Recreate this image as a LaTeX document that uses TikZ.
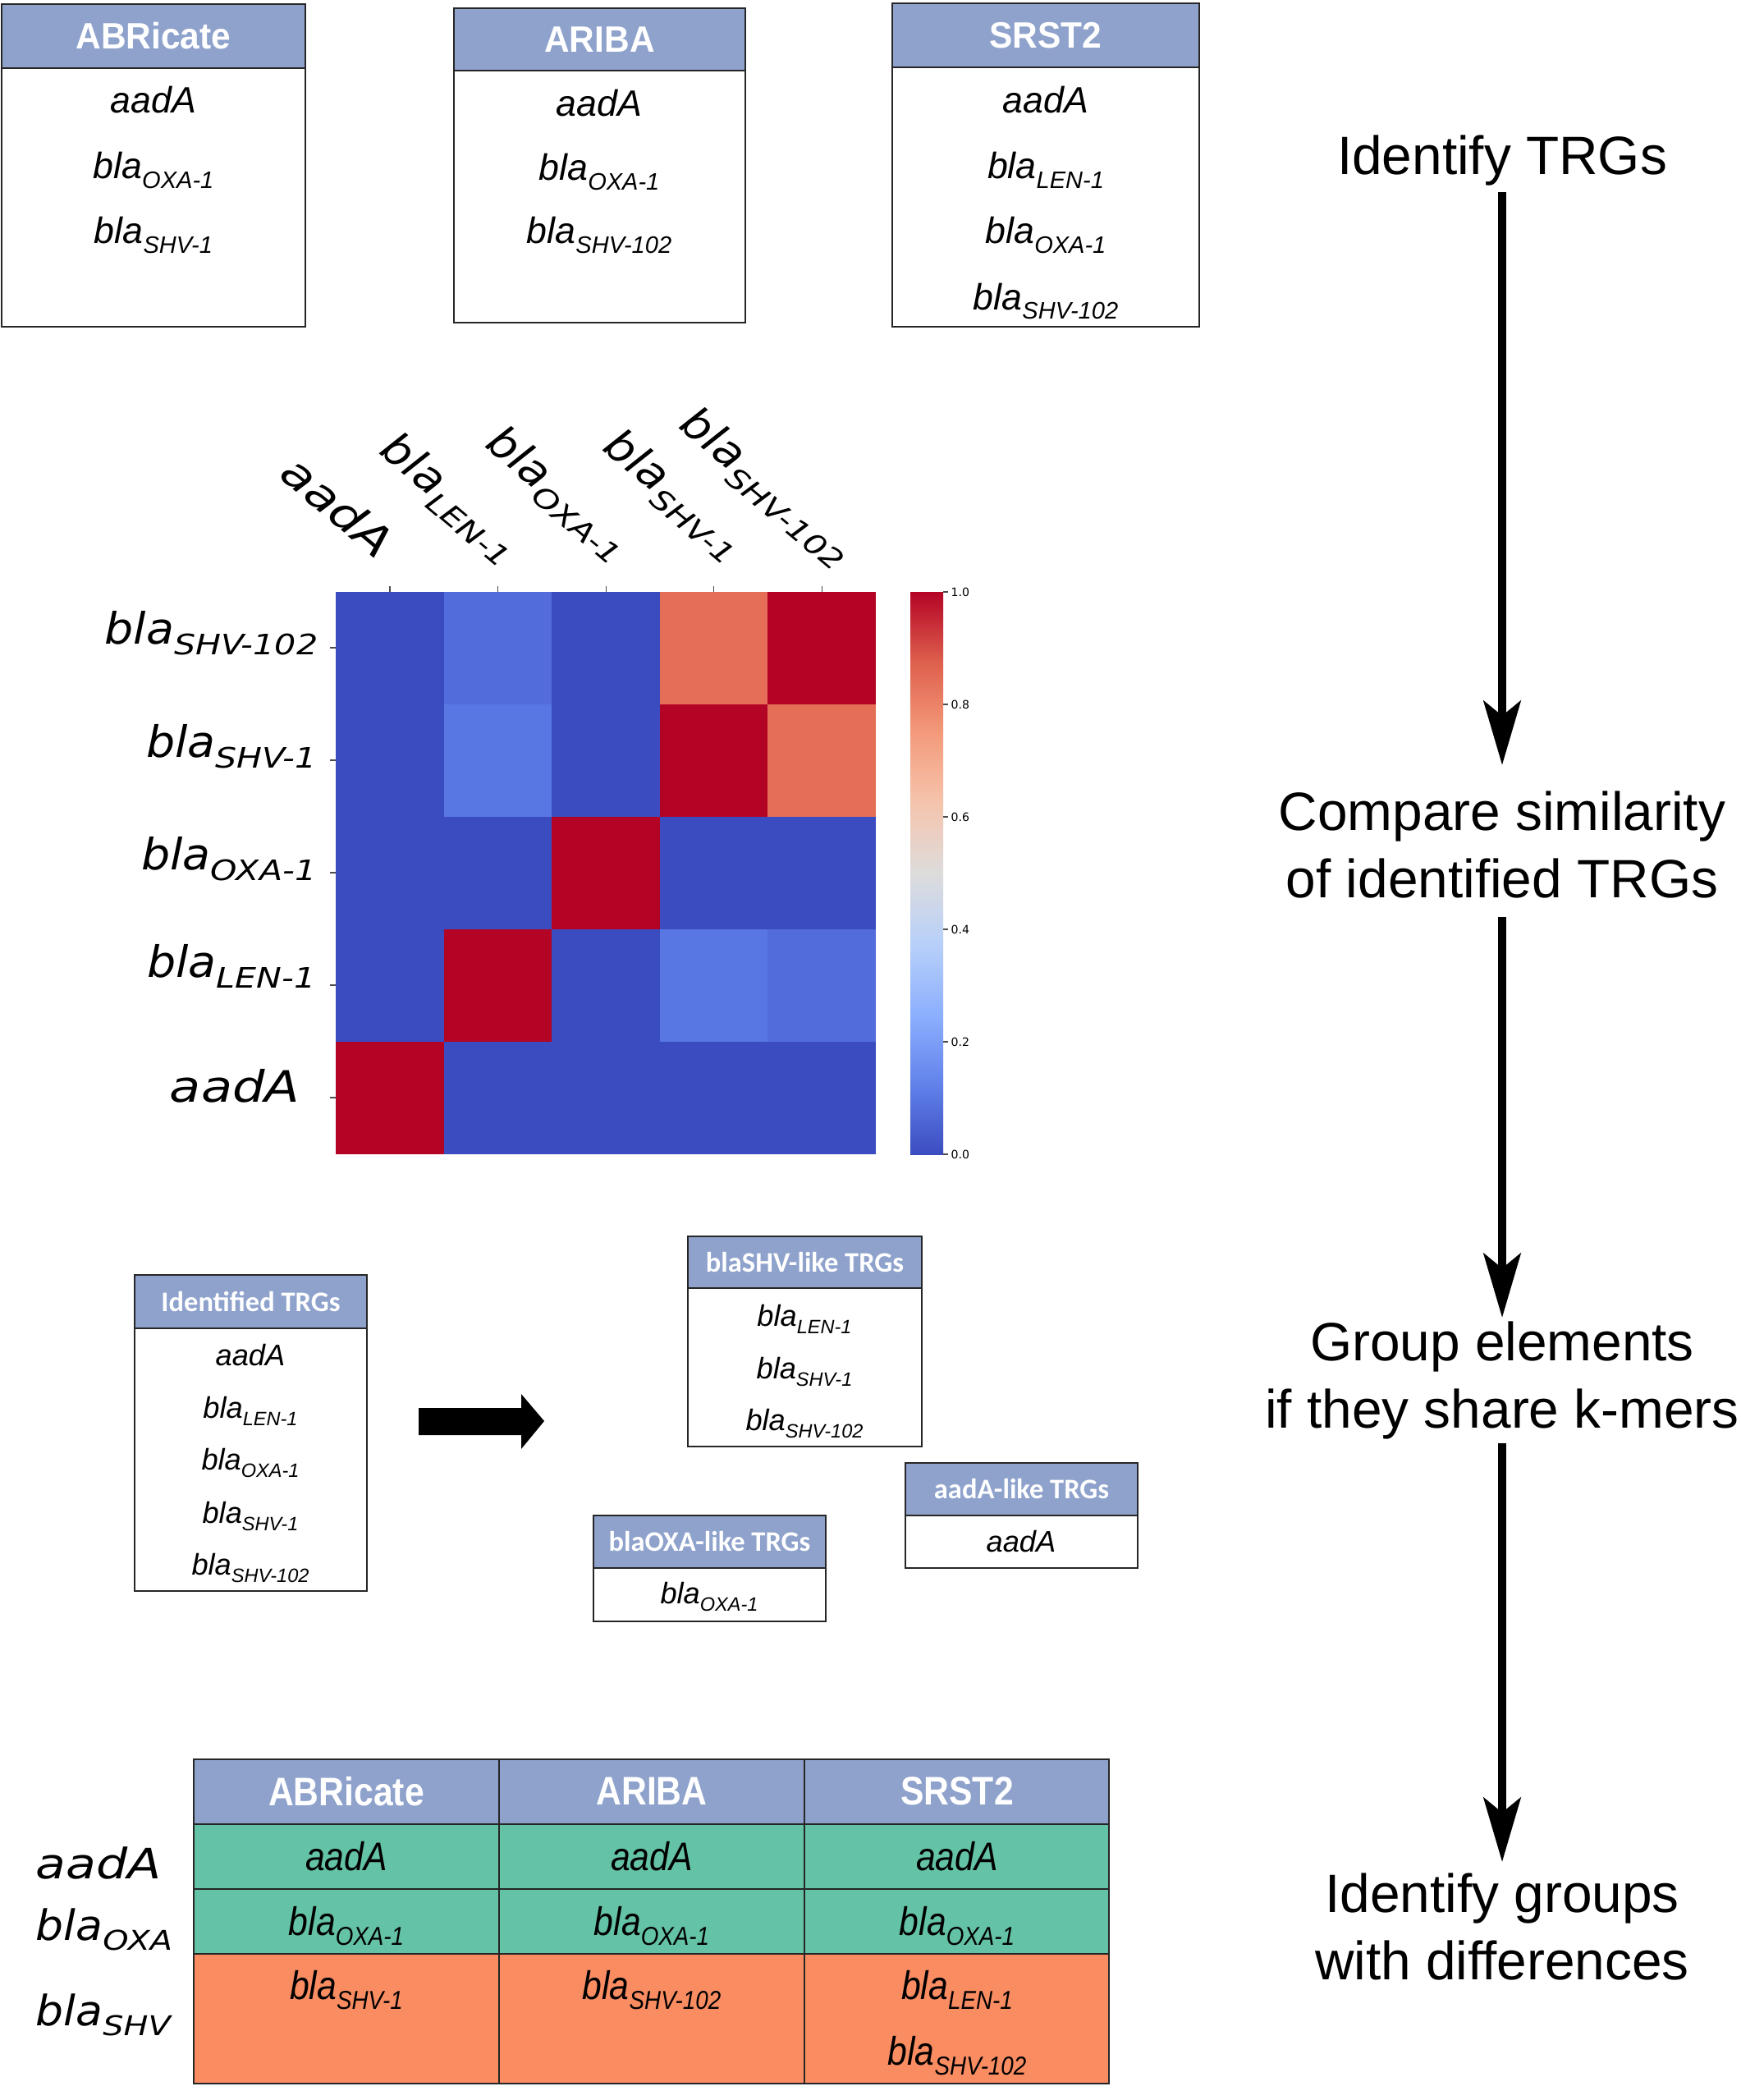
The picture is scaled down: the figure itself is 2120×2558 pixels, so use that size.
\documentclass[tikz,border=0pt]{standalone}
\usepackage{fontspec}
\usepackage{graphicx}
\setmainfont{Liberation Sans}
\newfontfamily\mplfont{DejaVu Sans}
\newfontfamily\calfont{Carlito}
\usetikzlibrary{arrows.meta}
\definecolor{hdr}{RGB}{142,162,204}
\definecolor{grn}{RGB}{100,194,166}
\definecolor{org}{RGB}{250,140,98}
\definecolor{hmB}{RGB}{59,76,192}
\definecolor{hmR}{RGB}{180,4,38}
\definecolor{hmL}{RGB}{82,108,220}
\definecolor{hmM}{RGB}{89,119,227}
\definecolor{hmS}{RGB}{229,111,86}
\pgfdeclareverticalshading{coolwarm}{100bp}{rgb(0bp)=(0.231,0.298,0.753); rgb(25bp)=(0.231,0.298,0.753); rgb(31.25bp)=(0.384,0.510,0.918); rgb(37.5bp)=(0.553,0.690,0.996); rgb(43.75bp)=(0.722,0.816,0.976); rgb(50bp)=(0.867,0.863,0.863); rgb(56.25bp)=(0.961,0.769,0.678); rgb(62.5bp)=(0.957,0.604,0.482); rgb(68.75bp)=(0.871,0.376,0.302); rgb(75bp)=(0.706,0.016,0.149); rgb(100bp)=(0.706,0.016,0.149)}
\newcommand{\bla}[1]{\textit{bla}\raisebox{-0.25em}{\scalebox{0.65}{\textit{#1}}}}
\newcommand{\hbla}[1]{\scalebox{1.05}[1]{\textit{bla}}\raisebox{-0.25em}{\scalebox{0.78}[0.65]{\textit{#1}}}}
\newcommand{\haad}{\scalebox{1.18}[1]{\textit{aadA}}}

\begin{document}
\begin{tikzpicture}[x=0.01cm, y=-0.01cm,
    box/.style={draw=black!85, line width=0.7pt},
    head/.style={text=white, xscale=0.95, font=\fontsize{12.7}{15}\selectfont\bfseries},
    gene/.style={anchor=base, inner sep=0pt, font=\fontsize{12.7}{15}\selectfont\itshape},
    smallhead/.style={text=white, font=\calfont\fontsize{9.8}{12}\selectfont\bfseries},
    smallgene/.style={anchor=base, inner sep=0pt, font=\fontsize{10.3}{12}\selectfont\itshape},
    tabhead/.style={text=white, xscale=0.88, font=\fontsize{13.8}{16}\selectfont\bfseries},
    tabgene/.style={anchor=base, inner sep=0pt, xscale=0.88, font=\fontsize{13.8}{16}\selectfont\itshape},
    tabline/.style={draw=black!85, line width=0.8pt},
    hmlab/.style={inner sep=0pt, font=\mplfont\fontsize{15}{18}\selectfont\itshape},
    sidelab/.style={anchor=base west, inner sep=0pt, font=\mplfont\fontsize{14.5}{17}\selectfont\itshape},
    cblab/.style={anchor=west, inner sep=0pt, font=\mplfont\fontsize{4}{5}\selectfont},
    tick/.style={draw=black!70, line width=0.3pt},
    steptext/.style={inner sep=0pt, align=center, font=\fontsize{18.7}{23.3}\selectfont},
    flow/.style={line width=3.1pt, -{Stealth[length=7.8mm, width=4.5mm, inset=1.8mm]}}]
\useasboundingbox (0,0) rectangle (2120,2558);

\foreach \n/\xa/\xb/\ya/\yb/\yc/\ttl in {abr/2/372/5/83/398/ABRicate, ari/553/908/10/86/393/ARIBA, srs/1087/1461/4/82/398/SRST2}{
    \filldraw[box, fill=hdr] (\xa,\ya) rectangle (\xb,\yb);
    \draw[box] (\xa,\yb) rectangle (\xb,\yc);
    \node[head] (\n) at ({(\xa+\xb)/2},{(\ya+\yb)/2}) {\ttl};
}
\foreach \x/\y/\g [count=\k] in {187/138/aadA, 187/218/\bla{OXA-1}, 187/297/\bla{SHV-1},
    730/142/aadA, 730/220/\bla{OXA-1}, 730/297/\bla{SHV-102},
    1274/138/aadA, 1274/218/\bla{LEN-1}, 1274/297/\bla{OXA-1}, 1274/377/\bla{SHV-102}}
    \node[gene] (top\k) at (\x,\y) {\g};

\foreach \row [count=\i from 0] in {{hmB,hmL,hmB,hmS,hmR},{hmB,hmM,hmB,hmR,hmS},{hmB,hmB,hmR,hmB,hmB},{hmB,hmR,hmB,hmM,hmL},{hmR,hmB,hmB,hmB,hmB}}
    \foreach \c [count=\j from 0] in \row
        \fill[\c] ({409+131.6*\j},{721+137*\i}) rectangle ++(131.6,137);
\foreach \j in {0,...,4}
    \draw[tick] ({475+131.6*\j},721) -- ++(0,-7);
\foreach \i in {0,...,4}
    \draw[tick] (409,{789+137*\i}) -- ++(-7,0);
\foreach \x/\y/\g [count=\k] in {388/784/\hbla{SHV-102}, 386/922/\hbla{SHV-1}, 386/1059/\hbla{OXA-1}, 385/1190/\hbla{LEN-1}, 366/1342/\haad}
    \node[hmlab, anchor=base east] (row\k) at (\x,\y) {\g};
\foreach \x/\y/\g [count=\k] in {460/683/\haad, 618/684/\hbla{LEN-1}, 753/681/\hbla{OXA-1}, 892/681/\hbla{SHV-1}, 1025/688/\hbla{SHV-102}}
    \node[hmlab, anchor=base east, rotate=-40] (col\k) at (\x,\y) {\g};
\shade[shading=coolwarm] (1109,721) rectangle (1149,1406);
\foreach \val [count=\k from 0] in {0.0,0.2,0.4,0.6,0.8,1.0}{
    \draw[tick] (1149,{1406-137*\k}) -- ++(6,0);
    \node[cblab] (cb\k) at (1158,{1406-137*\k}) {\val};
}

\foreach \n/\xa/\xb/\ya/\yb/\yc/\ttl in {idt/164/447/1553/1618/1938/Identified TRGs, shv/838/1123/1506/1569/1762/blaSHV-like TRGs, aad/1103/1386/1782/1846/1910/aadA-like TRGs, oxa/723/1006/1846/1910/1975/blaOXA-like TRGs}{
    \filldraw[box, fill=hdr] (\xa,\ya) rectangle (\xb,\yb);
    \draw[box] (\xa,\yb) rectangle (\xb,\yc);
    \node[smallhead] (\n) at ({(\xa+\xb)/2},{(\ya+\yb)/2}) {\ttl};
}
\foreach \x/\y/\g [count=\k] in {305/1663/aadA, 305/1727/\bla{LEN-1}, 305/1790/\bla{OXA-1}, 305/1855/\bla{SHV-1}, 305/1918/\bla{SHV-102},
    980/1615/\bla{LEN-1}, 980/1679/\bla{SHV-1}, 980/1742/\bla{SHV-102},
    1244/1890/aadA, 864/1953/\bla{OXA-1}}
    \node[smallgene] (mid\k) at (\x,\y) {\g};
\fill (510,1715) -- (635,1715) -- (635,1698) -- (663,1731) -- (635,1765) -- (635,1748) -- (510,1748) -- cycle;

\fill[hdr] (236,2143) rectangle (1351,2222);
\fill[grn] (236,2222) rectangle (1351,2380);
\fill[org] (236,2380) rectangle (1351,2538);
\draw[tabline] (236,2143) rectangle (1351,2538);
\foreach \y in {2222,2301,2380}
    \draw[tabline] (236,\y) -- (1351,\y);
\foreach \x in {608,980}
    \draw[tabline, line width=0.6pt] (\x,2143) -- (\x,2538);
\foreach \x/\ttl in {422/ABRicate, 794/ARIBA, 1166/SRST2}
    \node[tabhead] (tab\ttl) at (\x,2182) {\ttl};
\foreach \x/\y/\g [count=\k] in {422/2278/aadA, 794/2278/aadA, 1166/2278/aadA,
    422/2357/\bla{OXA-1}, 794/2357/\bla{OXA-1}, 1166/2357/\bla{OXA-1},
    422/2435/\bla{SHV-1}, 794/2435/\bla{SHV-102}, 1166/2435/\bla{LEN-1}, 1166/2515/\bla{SHV-102}}
    \node[tabgene] (cell\k) at (\x,\y) {\g};
\node[sidelab] (side1) at (43,2288) {\haad};
\node[sidelab] (side2) at (43,2363) {\hbla{OXA}};
\node[sidelab] (side3) at (43,2467) {\hbla{SHV}};

\node[steptext, anchor=base] (s1) at (1830,213) {Identify TRGs};
\node[steptext, anchor=north] (s2) at (1830,963) {Compare similarity\\of identified TRGs};
\node[steptext, anchor=north] (s3) at (1830,1609) {Group elements\\if they share k-mers};
\node[steptext, anchor=north] (s4) at (1830,2281) {Identify groups\\with differences};
\draw[flow, shorten <=0.07cm, shorten >=0.31cm] (s1) -- (s2);
\draw[flow, shorten <=0.22cm, shorten >=0.04cm] (s2) -- (s3);
\draw[flow, shorten <=0.04cm, shorten >=0.13cm] (s3) -- (s4);
\end{tikzpicture}
\end{document}
